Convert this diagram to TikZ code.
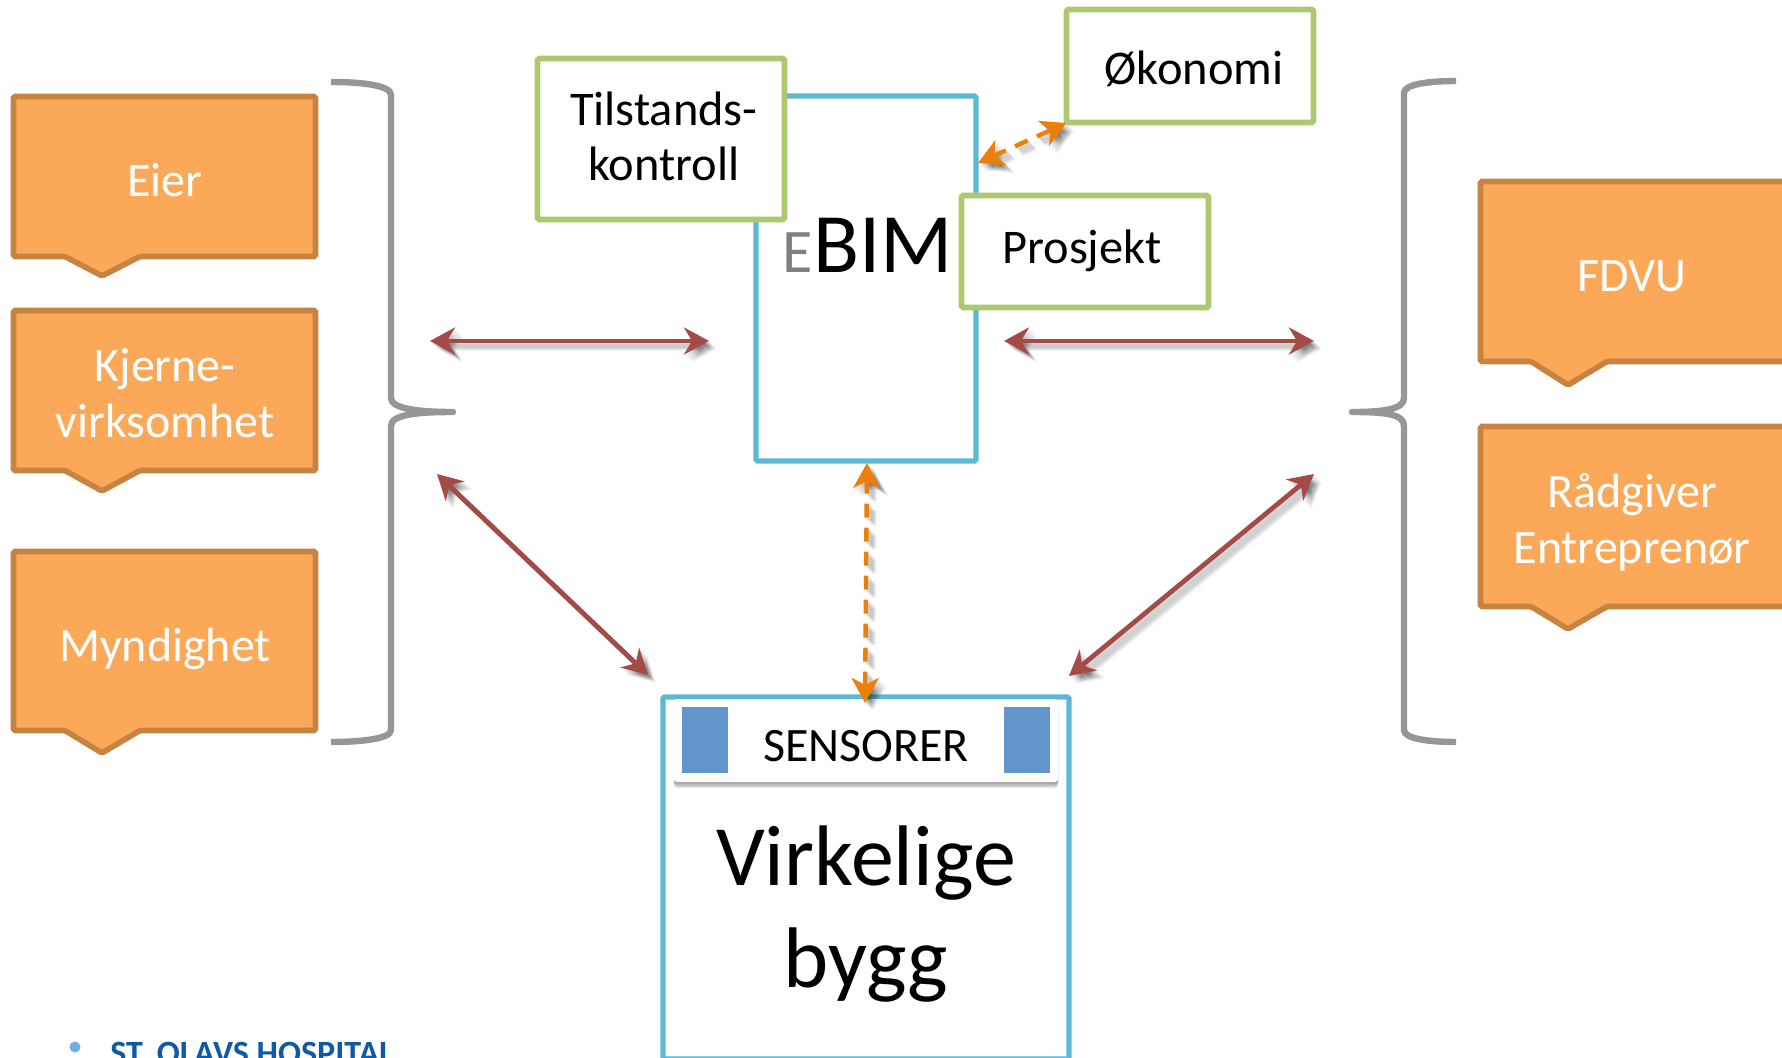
\documentclass[tikz,border=0pt]{standalone}
\usepackage{fontspec}
\setmainfont{Carlito}
\usetikzlibrary{arrows.meta}
\definecolor{orfill}{HTML}{FBA958}
\definecolor{orline}{HTML}{C68342}
\definecolor{bluebox}{HTML}{5DB9D3}
\definecolor{greenbox}{HTML}{AEC86F}
\definecolor{redarrow}{HTML}{A44A47}
\definecolor{orarrow}{HTML}{EC7F08}
\definecolor{bracegrey}{HTML}{969696}
\definecolor{sensorblue}{HTML}{6295CB}
\definecolor{hospblue}{HTML}{0E5AA5}
\definecolor{dotblue}{HTML}{6BB0E0}
\tikzset{
  calloutbox/.style={fill=orfill,draw=orline,line width=2.8pt,rounded corners=0.8pt,line join=miter},
  calltext/.style={text=white,font=\fontsize{24pt}{28pt}\selectfont,anchor=base,align=center,inner sep=0pt},
  framebox/.style={draw=bluebox,fill=white,line width=2.6pt,rounded corners=0.8pt,inner sep=0pt},
  greenframe/.style={draw=greenbox,fill=white,line width=2.8pt,rounded corners=0.8pt,inner sep=0pt},
  blacktext/.style={text=black,font=\fontsize{24.2pt}{27.5pt}\selectfont,anchor=base,align=center,inner sep=0pt},
  bigtext/.style={text=black,font=\fontsize{43pt}{51pt}\selectfont,anchor=base,align=center,inner sep=0pt},
  sensorsq/.style={fill=sensorblue,inner sep=0pt,minimum width=23pt,minimum height=33pt},
  bracepath/.style={draw=bracegrey,line width=3.2pt,line join=round,line cap=butt},
  redstyle/.style={redarrow,line width=2.4pt,{Stealth[length=12.5pt,width=13.5pt,inset=4pt]}-{Stealth[length=12.5pt,width=13.5pt,inset=4pt]}},
  orstyle/.style={orarrow,line width=2.2pt,dash pattern=on 7pt off 5pt,{Stealth[length=12.5pt,width=13.5pt,inset=3.5pt,sep=0pt]}-{Stealth[length=12.5pt,width=13.5pt,inset=3.5pt]}},
}
% shadowed arrow between two named points
\newcommand{\softarrow}[3]{%
  \foreach \s in {1,1.5,2,2.5,3,3.5,4}{%
    \draw[#1,draw=black,fill=black,color=black,opacity=0.05,transform canvas={shift={(\s pt,-\s pt)}}] (#2) -- (#3);
  }%
  \draw[#1] (#2) -- (#3);%
}
% callout box, outline on its centre line
\newcommand{\calloutshape}[8]{%
  \path[calloutbox] (#1,#2) -- (#3,#2) -- (#3,#4) -- (#6,#4) -- (#7,#8) -- (#5,#4) -- (#1,#4) -- cycle;%
}
\begin{document}
\begin{tikzpicture}[x=0.5pt,y=-0.5pt]
\useasboundingbox (0,0) rectangle (1782,1058);
\clip (0,0) rectangle (1782,1058);
\fill[white] (0,0) rectangle (1782,1058);

% left callouts
\calloutshape{13.5}{96.5}{315.5}{256.5}{65}{140}{102}{276}
\node[calltext] (eier) at (165,196.5) {Eier};
\calloutshape{13.5}{310.5}{315.5}{470.5}{65}{140}{102}{491}
\node[calltext] (kjerne) at (165,438) {Kjerne-\\virksomhet};
\calloutshape{13.5}{551.5}{315.5}{730.5}{65}{140}{102}{753}
\node[calltext] (mynd) at (165,661) {Myndighet};

% right callouts
\calloutshape{1480.5}{181.5}{1786}{361.5}{1531}{1607}{1568}{385}
\node[calltext] (fdvu) at (1632,291.5) {FDVU};
\calloutshape{1480.5}{426.5}{1786}{606.5}{1531}{1607}{1568}{629}
\node[calltext] (raad) at (1632,563) {Rådgiver\\Entreprenør};

% braces
\path[bracepath] (331,82) .. controls (360,82) and (391,85) .. (391,95)
  -- (391,398) .. controls (391,409) and (420,412) .. (453,412)
  .. controls (420,412) and (391,414) .. (391,426)
  -- (391,730) .. controls (391,739) and (360,742) .. (331,742);
\path[bracepath] (1456,81) .. controls (1430,81) and (1404,84) .. (1404,93)
  -- (1404,398) .. controls (1404,409) and (1385,412) .. (1352,412)
  .. controls (1385,412) and (1404,414) .. (1404,426)
  -- (1404,730) .. controls (1404,739) and (1430,742) .. (1456,742);

% BIM box and its satellites
\node[framebox,minimum width=110pt,minimum height=182.5pt] (bim) at (866,278.5) {};
\node[greenframe,minimum width=123.5pt,minimum height=80.5pt] (tilbox) at (661,139) {};
\node[blacktext] (til) at (664,181) {Tilstands-\\kontroll};
\node[greenframe,minimum width=123.5pt,minimum height=56.5pt] (okbox) at (1190,66) {};
\node[blacktext] (ok) at (1194,85) {Økonomi};
\node[greenframe,minimum width=123.5pt,minimum height=56pt] (probox) at (1085,251.5) {};
\node[blacktext] (pro) at (1082,264) {Prosjekt};
\node[text=gray,font=\fontsize{31pt}{36pt}\selectfont,anchor=base west,inner sep=0pt] (e) at (782,273) {E};
\node[text=black,font=\fontsize{42.3pt}{50pt}\selectfont,anchor=base west,inner sep=0pt] (bimt) at (813,273) {BIM};

% real building box
\node[framebox,minimum width=203pt,minimum height=181pt] (virk) at (866,878) {};
\foreach \s in {0.6,1.2,1.8,2.4,3}{
  \fill[black,opacity=0.09,rounded corners=1.5pt] (674,{699+\s*2}) rectangle (1058,{782+\s*2});
}
\node[fill=white,rounded corners=1.5pt,inner sep=0pt,minimum width=192pt,minimum height=41.5pt] (card) at (866,740.5) {};
\node[sensorsq] (sql) at (705,740) {};
\node[sensorsq] (sqr) at (1027,740) {};
\node[text=black,font=\fontsize{24pt}{29pt}\selectfont,anchor=base,inner sep=0pt] (sens) at (866,761) {SENSORER};
\node[bigtext] (vb) at (866,987) {Virkelige\\bygg};

% footer
\fill[dotblue] (75,1047) circle (5.5);
\node[text=hospblue,font=\bfseries\fontsize{17pt}{20pt}\selectfont,anchor=base west,inner sep=0pt] (hosp) at (110,1064) {ST. OLAVS HOSPITAL};

% arrow ends
\coordinate (lha) at (430,341);
\coordinate (lhb) at (709,341);
\coordinate (rha) at (1004,341);
\coordinate (rhb) at (1314,341);
\coordinate (lda) at (437,474);
\coordinate (ldb) at (648,675);
\coordinate (rda) at (1314,474);
\coordinate (rdb) at (1069,676);
\coordinate (vta) at (867,463);
\coordinate (vtb) at (865,703);
\coordinate (oka) at (978,163);
\coordinate (okb) at (1066.5,123);

\softarrow{redstyle}{lha}{lhb}
\softarrow{redstyle}{rha}{rhb}
\softarrow{redstyle}{lda}{ldb}
\softarrow{redstyle}{rda}{rdb}
\softarrow{orstyle}{vta}{vtb}
\softarrow{orstyle}{oka}{okb}
\end{tikzpicture}
\end{document}
